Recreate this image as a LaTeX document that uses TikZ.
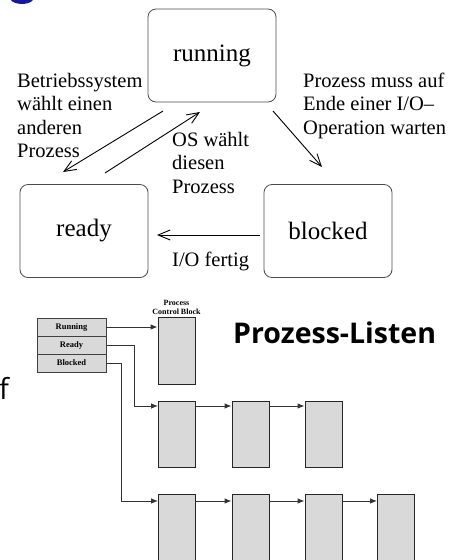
\documentclass[tikz,border=0pt]{standalone}
\usepackage{fontspec}
\setmainfont{Liberation Serif}
\newfontfamily\osans{Open Sans}
\usetikzlibrary{arrows.meta}
\definecolor{navyfrag}{RGB}{25,25,145}
\definecolor{cellgray}{RGB}{217,217,217}
\begin{document}
\begin{tikzpicture}[x=1pt,y=-1pt,
  state/.style={draw=black!70, line width=0.8pt, rounded corners=8pt, minimum width=128pt, minimum height=93pt, inner sep=0pt, font=\fontsize{25}{28}\selectfont},
  lbl/.style={align=left, inner sep=0pt, font=\fontsize{20.5}{23.3}\selectfont},
  tr/.style={line width=0.9pt, -{Straight Barb[length=12pt,width=10pt,line width=0.9pt]}},
  cell/.style={draw=black!75, fill=cellgray, line width=0.9pt, minimum width=69pt, minimum height=18pt, inner sep=0pt, font=\fontsize{8.5}{10}\selectfont\bfseries},
  blk/.style={draw=black!85, fill=cellgray, line width=0.9pt, minimum width=37pt, minimum height=66pt, inner sep=0pt},
  lnk/.style={draw=black!80, line width=0.9pt, -{Latex[length=7pt,width=5.5pt]}},
]
\useasboundingbox (0,0) rectangle (448,560);
% fragments cut by the frame
\fill[navyfrag] (11pt,0pt) .. controls (14pt,-5pt) and (29pt,-5.5pt) .. (33pt,0pt) -- cycle;
\node[font=\osans\fontsize{29}{30}\selectfont, anchor=base west, inner sep=0pt] (ff) at (-1,399) {f};

% state diagram
\node[state] (run) at (212,55.5) {running};
\node[state] (rdy) at (84,231) {ready};
\node[state] (blkd) at (328,231) {blocked};

\node[lbl, anchor=north west] (l1) at (17,73) {Betriebssystem\\wählt einen\\anderen\\Prozess};
\node[lbl, anchor=north west] (l2) at (303,73) {Prozess muss auf\\Ende einer I/O–\\Operation warten};
\node[lbl, anchor=north west] (l3) at (172,132) {OS wählt\\diesen\\Prozess};
\node[lbl, anchor=base west] (l4) at (172,266) {I/O fertig};

\coordinate (a1s) at (163,111); \coordinate (a1e) at (63,172);
\coordinate (a2s) at (105,173); \coordinate (a2e) at (200,112);
\coordinate (a3s) at (273,111); \coordinate (a3e) at (322,167);
\coordinate (a4s) at (260,235); \coordinate (a4e) at (157,235);
\draw[tr] (a1s) -- (a1e);
\draw[tr] (a2s) -- (a2e);
\draw[tr] (a3s) -- (a3e);
\draw[tr] (a4s) -- (a4e);

% process lists
\node[cell] (cr) at (71.5,327) {Running};
\node[cell] (cy) at (71.5,345) {Ready};
\node[cell] (cb) at (71.5,363) {Blocked};
\node[blk, minimum height=67pt] (pcb) at (176.5,350.5) {};
\node[align=center, inner sep=0pt, font=\fontsize{8}{9.5}\selectfont\bfseries, anchor=south] (pcbl) at (176.5,315) {Process\\Control Block};

\node[blk] (r1a) at (177,434) {};
\node[blk] (r1b) at (250.5,434) {};
\node[blk] (r1c) at (323.5,434) {};
\node[blk] (r2a) at (177,527) {};
\node[blk] (r2b) at (250.5,527) {};
\node[blk] (r2c) at (323.5,527) {};
\node[blk] (r2d) at (396,527) {};

\coordinate (ry) at (134,406);
\coordinate (by) at (121,501);
\draw[lnk] (cr.east) -- (cr.east -| pcb.west);
\draw[lnk] (cy.east) -| (ry) -- (r1a.west |- ry);
\draw[lnk] (cb.east) -| (by) -- (r2a.west |- by);
\draw[lnk] (r1a.east |- ry) -- (r1b.west |- ry);
\draw[lnk] (r1b.east |- ry) -- (r1c.west |- ry);
\draw[lnk] (r2a.east |- by) -- (r2b.west |- by);
\draw[lnk] (r2b.east |- by) -- (r2c.west |- by);
\draw[lnk] (r2c.east |- by) -- (r2d.west |- by);

\node[font=\osans\bfseries\fontsize{28.5}{32}\selectfont, anchor=west, inner sep=0pt] (title) at (233,333) {Prozess-Listen};
\end{tikzpicture}
\end{document}
